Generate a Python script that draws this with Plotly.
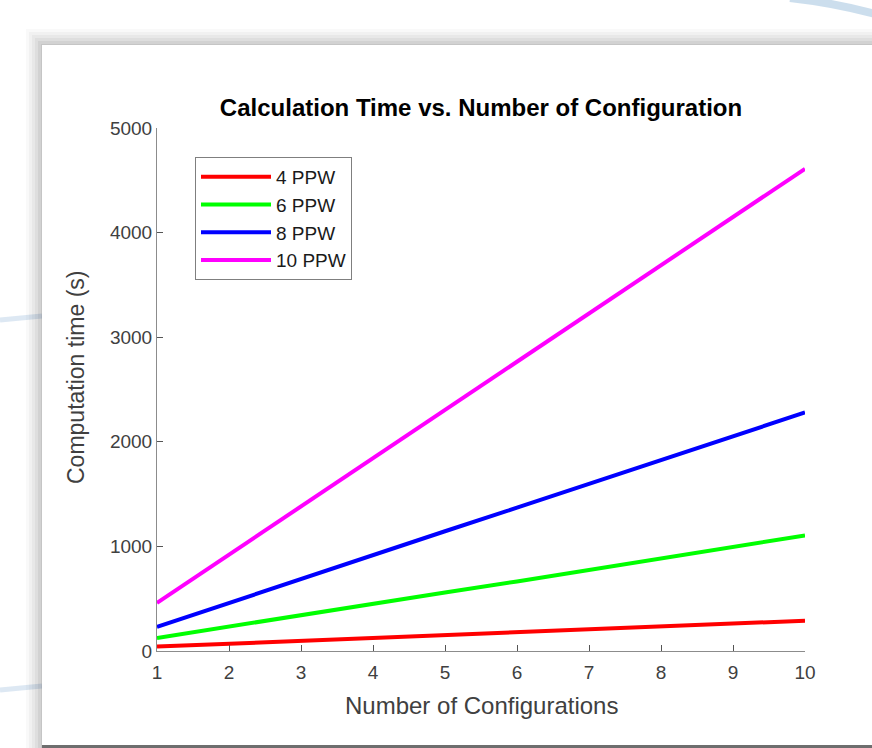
import plotly.graph_objects as go

configs = [1, 2, 3, 4, 5, 6, 7, 8, 9, 10]
ppw4 = [42, 70, 98, 125, 150, 178, 205, 235, 262, 290]
ppw6 = [125, 235, 345, 455, 560, 665, 775, 885, 995, 1105]
ppw8 = [230, 460, 690, 920, 1145, 1370, 1600, 1830, 2060, 2280]
ppw10 = [460, 920, 1380, 1840, 2300, 2760, 3225, 3690, 4150, 4610]
series_names = ["4 PPW", "6 PPW", "8 PPW", "10 PPW"]
series_colors = ["#ff0000", "#00ff00", "#0000ff", "#ff00ff"]

fig = go.Figure()
for name, vals, col in zip(series_names, [ppw4, ppw6, ppw8, ppw10], series_colors):
    fig.add_trace(go.Scatter(x=configs, y=vals, mode="lines", name=name,
                             line=dict(color=col, width=4)))

L, R, T, B = 157, 67, 128, 97
W, H = 872, 748
pw, ph = W - L - R, H - T - B

def px(x):
    return (x - L) / pw

def py(y):
    return (H - B - y) / ph

shapes = []
# faint blue background curves
blue = "rgba(180,205,228,0.45)"
shapes.append(dict(type="path", xref="paper", yref="paper",
                   path=f"M {px(0)},{py(320)} L {px(42)},{py(316)}",
                   line=dict(color=blue, width=5), layer="below"))
shapes.append(dict(type="path", xref="paper", yref="paper",
                   path=f"M {px(0)},{py(690)} L {px(42)},{py(686)}",
                   line=dict(color=blue, width=5), layer="below"))
shapes.append(dict(type="path", xref="paper", yref="paper",
                   path=f"M {px(790)},{py(-2)} Q {px(835)},{py(3)} {px(875)},{py(14)}",
                   line=dict(color="rgba(170,200,225,0.6)", width=8), layer="below"))
# shadow of screenshot card
for i, op in enumerate([0.025, 0.03, 0.035, 0.04, 0.05, 0.06]):
    d = 16 - i * 3
    shapes.append(dict(type="rect", xref="paper", yref="paper",
                       x0=px(42 - d), x1=px(900), y0=py(760), y1=py(45 - d),
                       fillcolor=f"rgba(0,0,0,{op})", line=dict(width=0), layer="below"))
# white card
shapes.append(dict(type="rect", xref="paper", yref="paper",
                   x0=px(42), x1=px(900), y0=py(745), y1=py(45),
                   fillcolor="white", line=dict(width=0), layer="below"))
# bottom edge of screenshot
shapes.append(dict(type="line", xref="paper", yref="paper",
                   x0=px(42), x1=px(900), y0=py(746.5), y1=py(746.5),
                   line=dict(color="#6e6e6e", width=3), layer="below"))

tickc = "#404040"
annotations = [
    dict(text="Number of Configurations", xref="paper", yref="paper",
         x=px(481), y=py(705), xanchor="center", yanchor="middle", showarrow=False,
         font=dict(size=24, color=tickc)),
    dict(text="Computation time (s)", xref="paper", yref="paper",
         x=px(76), y=py(378), xanchor="center", yanchor="middle", showarrow=False,
         textangle=-90, font=dict(size=23, color=tickc)),
]

fig.update_layout(
    width=W, height=H,
    margin=dict(l=L, r=R, t=T, b=B),
    paper_bgcolor="white", plot_bgcolor="rgba(0,0,0,0)",
    font=dict(family="Liberation Sans, Arial, sans-serif", color=tickc),
    title=dict(text="<b>Calculation Time vs. Number of Configuration</b>",
               xref="container", x=481 / W, xanchor="center",
               y=1 - 108 / H, yanchor="middle",
               font=dict(size=24, color="#000000")),
    xaxis=dict(range=[1, 10], tickvals=configs, ticks="inside", ticklen=6,
               tickcolor="#555555", showgrid=False, zeroline=False,
               showline=True, linecolor="#8c8c8c", linewidth=1,
               ticklabelstandoff=4,
               tickfont=dict(size=19, color=tickc)),
    yaxis=dict(range=[0, 5000], tickvals=[0, 1000, 2000, 3000, 4000, 5000],
               ticks="inside", ticklen=6, tickcolor="#555555",
               showgrid=False, zeroline=False,
               showline=True, linecolor="#8c8c8c", linewidth=1,
               tickfont=dict(size=19, color=tickc)),
    legend=dict(x=px(195), y=py(157), xanchor="left", yanchor="top",
                bgcolor="white", bordercolor="#7f7f7f", borderwidth=1,
                font=dict(size=19, color="#1a1a1a"), tracegroupgap=0,
                itemwidth=70),
    shapes=shapes,
    annotations=annotations,
    showlegend=True,
)

fig.write_html("out.html", config={"displayModeBar": False},
               post_script="document.body.style.margin='0';document.body.style.overflow='hidden';")
